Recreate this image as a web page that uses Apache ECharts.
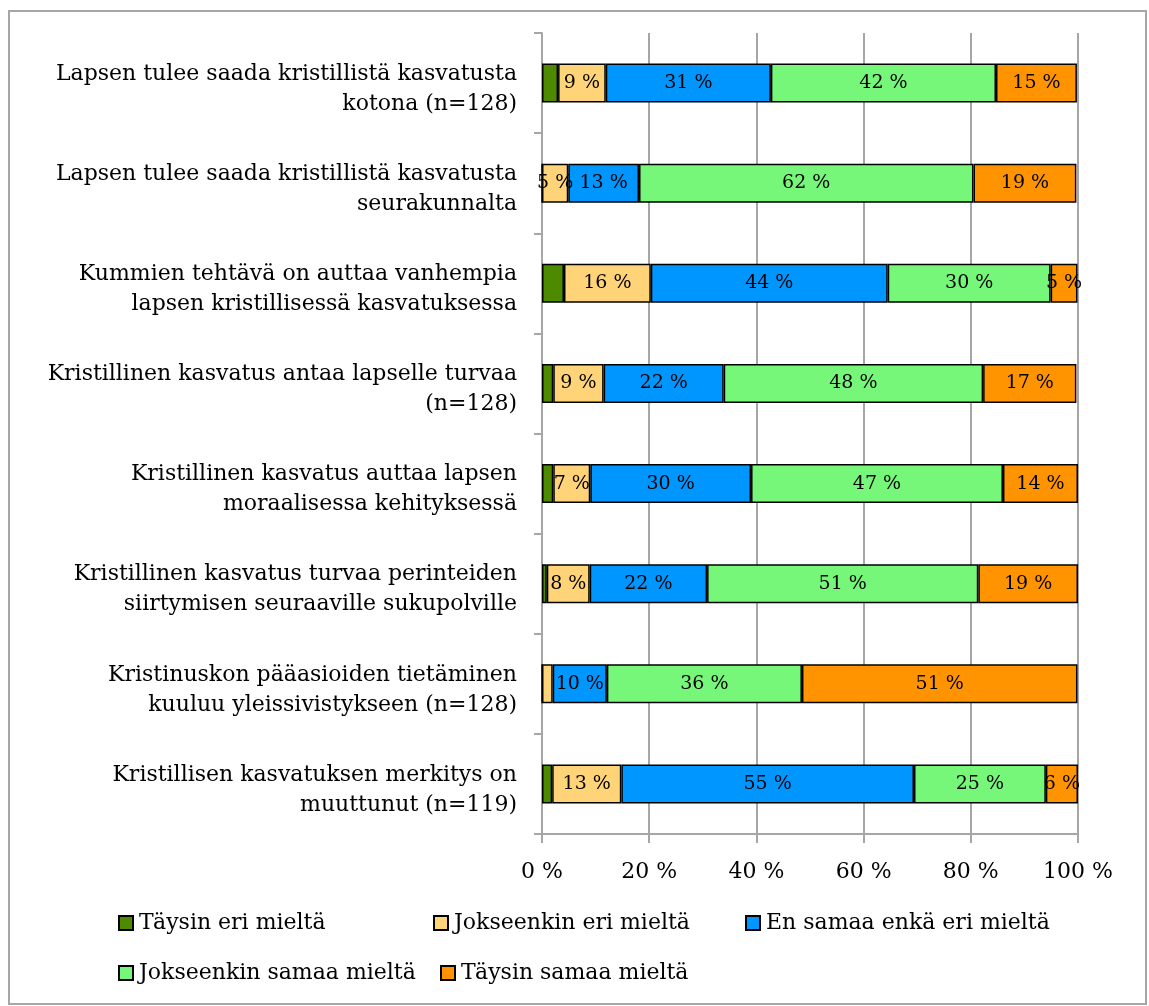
<!DOCTYPE html>
<html>
<head>
<meta charset="utf-8">
<script src="https://cdn.jsdelivr.net/npm/echarts@6/dist/echarts.min.js"></script>
<style>
html,body{margin:0;padding:0;background:#fff;}
#chart{width:1149px;height:1006px;}
</style>
</head>
<body>
<div id="chart"></div>
<script>
const categories = [
  "Lapsen tulee saada kristillistä kasvatusta\nkotona (n=128)",
  "Lapsen tulee saada kristillistä kasvatusta\nseurakunnalta",
  "Kummien tehtävä on auttaa vanhempia\nlapsen kristillisessä kasvatuksessa",
  "Kristillinen kasvatus antaa lapselle turvaa\n(n=128)",
  "Kristillinen kasvatus auttaa lapsen\nmoraalisessa kehityksessä",
  "Kristillinen kasvatus turvaa perinteiden\nsiirtymisen seuraaville sukupolville",
  "Kristinuskon pääasioiden tietäminen\nkuuluu yleissivistykseen (n=128)",
  "Kristillisen kasvatuksen merkitys on\nmuuttunut (n=119)"
];
const seriesNames = ["Täysin eri mieltä", "Jokseenkin eri mieltä", "En samaa enkä eri mieltä", "Jokseenkin samaa mieltä", "Täysin samaa mieltä"];
const taysinEri = [3.0, 0, 4.1, 2.1, 2.1, 0.9, 0, 1.9];
const jokseenkinEri = [8.9, 4.9, 16.2, 9.4, 6.9, 8.0, 2.0, 12.9];
const enSamaaEnkaEri = [30.8, 13.2, 44.2, 22.4, 30.0, 21.9, 10.1, 54.6];
const jokseenkinSamaa = [42.0, 62.4, 30.4, 48.4, 47.0, 50.6, 36.4, 24.6];
const taysinSamaa = [15.1, 19.2, 5.0, 17.4, 14.0, 18.6, 51.4, 6.0];
const xTicks = [0, 20, 40, 60, 80, 100];

const colors = ["#4e8a00", "#ffd479", "#0096ff", "#77f77a", "#ff9400"];
const FONT = "'DejaVu Serif', serif";
const dataSets = [taysinEri, jokseenkinEri, enSamaaEnkaEri, jokseenkinSamaa, taysinSamaa];

const series = dataSets.map((d, i) => ({
  name: seriesNames[i],
  type: 'bar',
  stack: 'total',
  barWidth: 39,
  data: d,
  itemStyle: { color: colors[i], borderColor: '#000', borderWidth: 1.5 },
  label: {
    show: i !== 0,
    position: 'inside',
    color: '#000',
    fontFamily: FONT,
    fontSize: 19,
    formatter: p => p.value >= 3 ? Math.round(p.value) + ' %' : ''
  },
  emphasis: { disabled: true }
}));

const legendPos = [
  { left: 113, top: 907 },
  { left: 428, top: 907 },
  { left: 740, top: 907 },
  { left: 113, top: 957 },
  { left: 435, top: 957 }
];
const legends = seriesNames.map((n, i) => ({
  data: [n],
  left: legendPos[i].left,
  top: legendPos[i].top,
  itemWidth: 14,
  itemHeight: 14,
  icon: 'rect',
  selectedMode: false,
  textStyle: { fontFamily: FONT, fontSize: 22, color: '#000', padding: [0, 0, 0, 1] }
}));

const chart = echarts.init(document.getElementById('chart'), null, { renderer: 'canvas' });
chart.setOption({
  animation: false,
  backgroundColor: '#fff',
  graphic: [{
    type: 'rect',
    shape: { x: 9, y: 11, width: 1137, height: 993 },
    style: { fill: 'none', stroke: '#a6a6a6', lineWidth: 2 },
    silent: true
  }],
  legend: legends,
  grid: { left: 542, right: 71, top: 33, bottom: 172, containLabel: false },
  xAxis: {
    type: 'value',
    min: xTicks[0],
    max: xTicks[xTicks.length - 1],
    interval: 20,
    axisLine: { show: true, lineStyle: { color: '#a6a6a6', width: 2 } },
    axisTick: { show: true, length: 9, lineStyle: { color: '#a6a6a6', width: 2 } },
    splitLine: { show: true, lineStyle: { color: '#a6a6a6', width: 2 } },
    axisLabel: { formatter: '{value} %', fontFamily: FONT, fontSize: 22, color: '#000', margin: 27 }
  },
  yAxis: {
    type: 'category',
    inverse: true,
    data: categories,
    axisLine: { show: true, lineStyle: { color: '#a6a6a6', width: 2 } },
    axisTick: { show: true, length: 8, lineStyle: { color: '#a6a6a6', width: 2 } },
    axisLabel: {
      color: '#000',
      align: 'right',
      margin: 25,
      formatter: v => '{s| }\n' + v.split('\n').map(l => '{n|' + l + '}').join('\n'),
      rich: {
        s: { fontFamily: FONT, fontSize: 4, lineHeight: 12, align: 'right' },
        n: { fontFamily: FONT, fontSize: 22, lineHeight: 30, color: '#000', align: 'right' }
      }
    }
  },
  series: series
});
</script>
</body>
</html>
